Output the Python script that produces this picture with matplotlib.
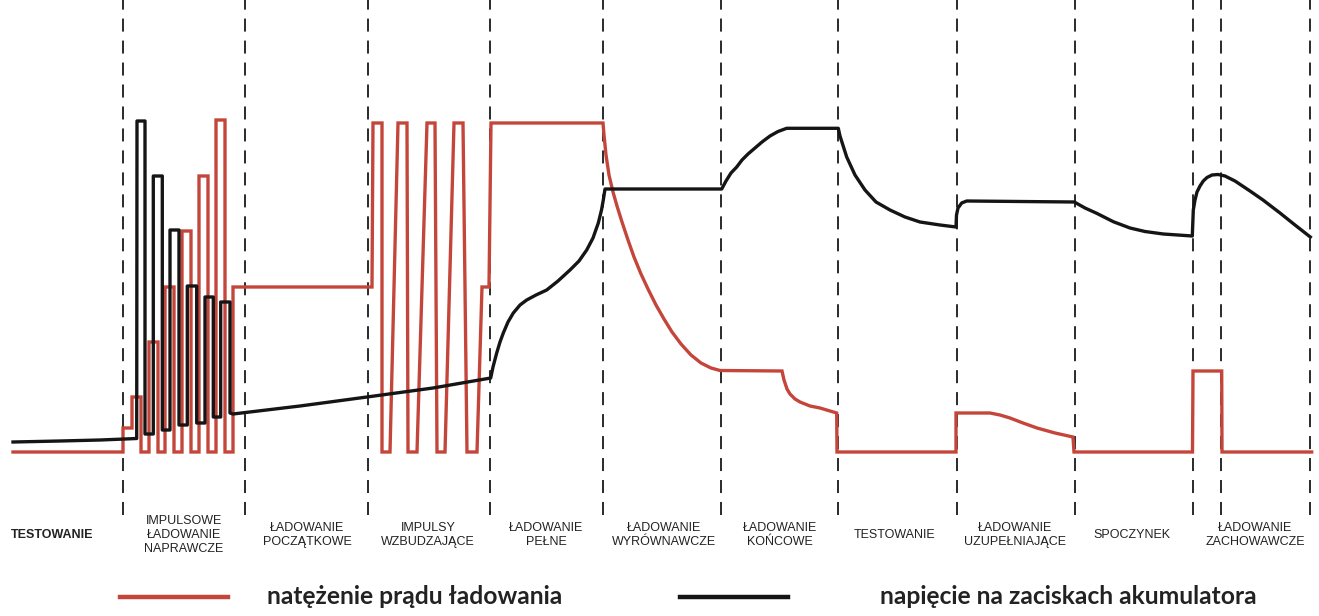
import matplotlib.pyplot as plt
from matplotlib.lines import Line2D

# time axis (arbitrary units), signal levels (arbitrary units)
phase_bounds = [123, 245, 368, 490, 603, 721, 838, 957, 1075, 1193, 1221, 1310]
phase_centers = [52, 184, 307, 428, 546, 664, 780, 895, 1015, 1132, 1255]
phase_labels = [
    "TESTOWANIE",
    "IMPULSOWE\nŁADOWANIE\nNAPRAWCZE",
    "ŁADOWANIE\nPOCZĄTKOWE",
    "IMPULSY\nWZBUDZAJĄCE",
    "ŁADOWANIE\nPEŁNE",
    "ŁADOWANIE\nWYRÓWNAWCZE",
    "ŁADOWANIE\nKOŃCOWE",
    "TESTOWANIE",
    "ŁADOWANIE\nUZUPEŁNIAJĄCE",
    "SPOCZYNEK",
    "ŁADOWANIE\nZACHOWAWCZE",
]

# charging current
current_t = [13, 123, 123, 132, 132, 141, 141, 149, 149, 158, 158, 165, 165, 174, 174, 182,
             182, 191, 191, 199, 199, 208, 208, 216, 216, 225, 225, 233, 233, 372,
             373, 382, 382, 390, 398, 407, 408, 417, 427, 435, 437, 445, 454, 463, 467, 477,
             482, 489, 491, 603,
             604, 606, 609, 613, 617, 622, 628, 634, 641, 648, 656, 664, 672, 681, 691,
             701, 711, 720,
             782, 784, 787, 790, 795, 800, 810, 820, 836.7, 837,
             956, 956, 975, 990, 1000, 1010, 1023, 1037, 1055, 1073, 1074,
             1192.5, 1193, 1221.7, 1222, 1311.7]
current_v = [18, 18, 42, 42, 73, 73, 18, 18, 128, 128, 18, 18, 183, 183, 18, 18,
             239, 239, 18, 18, 294, 294, 18, 18, 350, 350, 18, 18, 183, 183,
             347, 347, 18, 18, 347, 347, 18, 18, 347, 347, 18, 18, 347, 347, 18, 18,
             183, 183, 347, 347,
             335, 315, 295, 278, 264, 248, 230, 213, 196, 181, 165, 151, 138, 126, 115,
             107, 102, 99.5,
             99, 90, 81, 76, 71, 68, 64, 62, 57, 18,
             18, 57, 57, 57, 55, 52, 47, 42, 37, 33, 18,
             18, 99, 99, 18, 18]

# battery terminal voltage
voltage_t = [13, 60, 100, 125, 136.7, 137, 145, 145, 153.3, 153.3, 162.3, 162.3, 170, 170,
             179, 179, 187.3, 187.3, 196.7, 196.7, 205, 205, 213.3, 213.3, 220.7, 220.7, 230,
             230, 233, 300, 367, 433, 490.7,
             493, 496.7, 500, 503.3, 508, 513.3, 520, 526.7, 536, 546.7, 558, 570, 579,
             586.7, 593, 598.3, 601.5, 603.3, 605,
             721.7, 726, 731, 736.7, 742, 748, 755, 762, 770, 778, 786.7, 838.3,
             840, 846.7, 855, 865, 876, 890, 905, 920, 940, 956,
             956.5, 958, 961.7, 966.7, 1074.3, 1085, 1096.7, 1113.3, 1130, 1145, 1163.3,
             1192.3,
             1193.3, 1195, 1197, 1200, 1203.3, 1207, 1212, 1218, 1225, 1235, 1250, 1263,
             1280, 1295, 1310.3]
voltage_v = [28, 29, 30, 31, 31.5, 349, 349, 36, 36, 294, 294, 40, 40, 240,
             240, 45, 45, 184, 184, 47, 47, 173, 173, 53, 53, 168, 168,
             57, 56, 64, 73, 82, 92,
             103, 117, 128, 137, 148, 157, 165, 170, 175, 180, 189, 200, 209,
             220, 232, 247, 260, 270, 281,
             281, 289, 297, 303, 310, 316, 322, 328, 334, 338.5, 341.7, 341.7,
             334, 313, 295, 280, 268, 260, 253, 248, 245, 243,
             255, 262, 267, 269, 268, 262, 256.7, 248.3, 242, 238.5, 236,
             234,
             260, 270, 278, 284, 289, 292.5, 295, 295.5, 294, 289, 279, 270,
             257, 245, 233]

RED = "#c4453a"
BLACK = "#151515"
TEXT = "#222222"

fig = plt.figure(figsize=(13.19, 6.16), dpi=100)
ax = fig.add_axes([0, 0, 1, 1])
ax.set_xlim(0, 1319)
ax.set_ylim(-146, 470)
ax.axis("off")

for xb in phase_bounds:
    ax.plot([xb, xb], [-45, 470], color="#2a2a2a", lw=1.4,
            linestyle=(0, (6.7, 4.6)), zorder=1)

ax.plot(voltage_t, voltage_v, color=BLACK, lw=2.4, solid_joinstyle="round", zorder=3)
ax.plot(current_t, current_v, color=RED, lw=2.4, solid_joinstyle="miter", zorder=2)

for i, (xc, lab) in enumerate(zip(phase_centers, phase_labels)):
    ax.text(xc, -65, lab, ha="center", va="center", fontsize=9,
            family="Liberation Sans", color=TEXT, linespacing=1.2,
            fontweight="bold" if i == 0 else "normal")

# legend
fig.add_artist(Line2D([120 / 1319, 228 / 1319], [1 - 597 / 616] * 2,
                      color=RED, lw=3.2, transform=fig.transFigure))
fig.add_artist(Line2D([680 / 1319, 788 / 1319], [1 - 597 / 616] * 2,
                      color=BLACK, lw=3.2, transform=fig.transFigure))
fig.text(267 / 1319, 1 - 597 / 616, "natężenie prądu ładowania", ha="left", va="center",
         fontsize=17.7, family="Lato", fontweight="bold", color=TEXT)
fig.text(880 / 1319, 1 - 597 / 616, "napięcie na zaciskach akumulatora", ha="left",
         va="center", fontsize=17.7, family="Lato", fontweight="bold", color=TEXT)

fig.savefig("out.png", dpi=100, facecolor="white")
